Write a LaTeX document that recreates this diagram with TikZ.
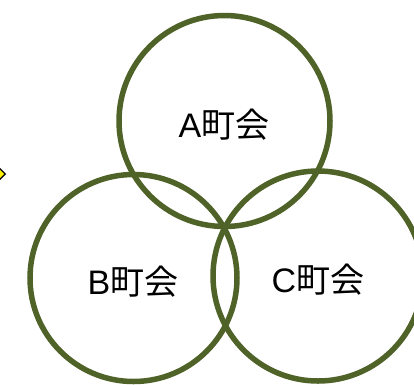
\documentclass[tikz,border=0pt]{standalone}
\usepackage{fontspec}
\usetikzlibrary{shapes.geometric}
\setmainfont{Liberation Sans}
\newfontfamily\cjk{Noto Sans CJK JP}
\definecolor{olivering}{RGB}{79,98,40}
\begin{document}
\begin{tikzpicture}[x=1pt,y=-1pt,
  ring/.style={draw=olivering,line width=5.5pt},
  lbl/.style={font=\fontsize{34}{34}\selectfont,inner sep=0pt}]
\useasboundingbox (0,0) rectangle (414,384);
\draw[ring] (224.5,121) circle (105.5);
\draw[ring] (133.5,278) circle (103.5);
\draw[ring] (318,276) circle (105);
\node[lbl] (a) at (224,125) {A{\cjk 町会}};
\node[lbl] (b) at (133,282) {B{\cjk 町会}};
\node[lbl] (c) at (318,280) {C{\cjk 町会}};
\node (mark) [diamond,draw=black,fill=yellow,line width=1.2pt,minimum size=11pt,inner sep=0pt] at (0,174) {};
\end{tikzpicture}
\end{document}
